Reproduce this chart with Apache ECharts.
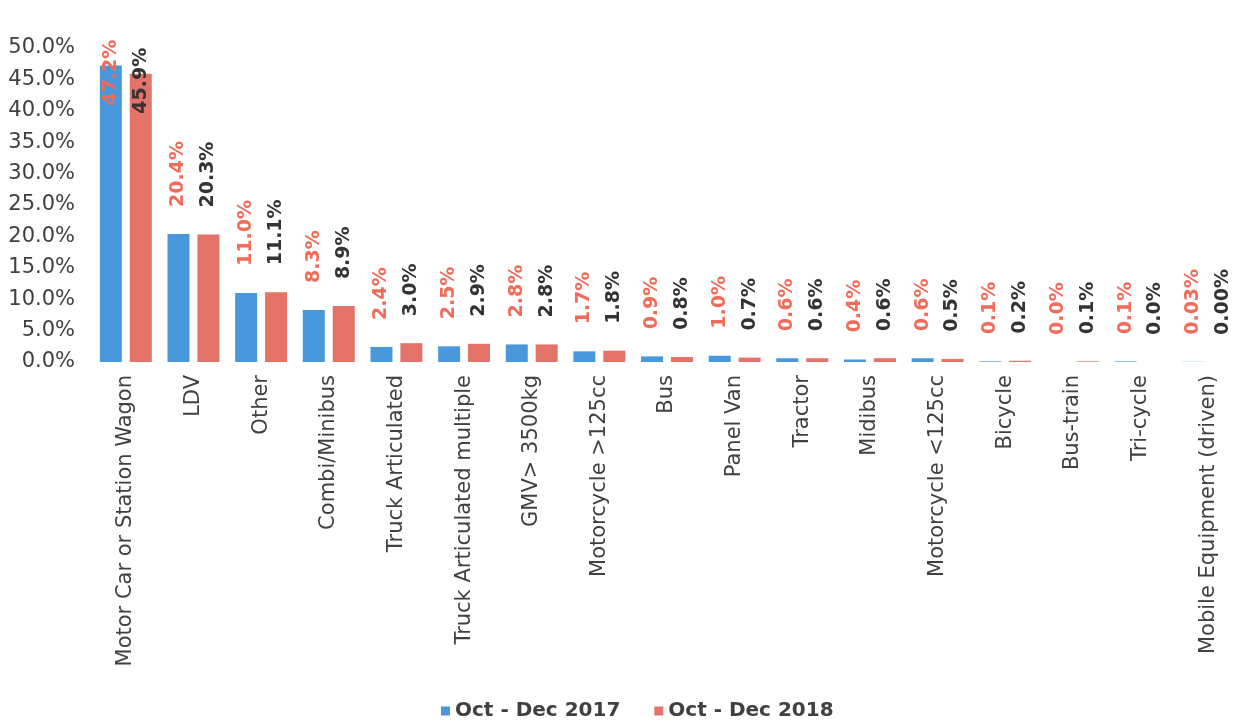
<!DOCTYPE html>
<html>
<head>
<meta charset="utf-8">
<script src="https://cdn.jsdelivr.net/npm/echarts@6/dist/echarts.min.js"></script>
<style>
  html, body { margin: 0; padding: 0; background: #ffffff; }
  #chart { width: 1242px; height: 728px; }
</style>
</head>
<body>
<div id="chart"></div>
<script>
const categories = [
  'Motor Car or Station Wagon', 'LDV', 'Other', 'Combi/Minibus', 'Truck Articulated',
  'Truck Articulated multiple', 'GMV> 3500kg', 'Motorcycle >125cc', 'Bus', 'Panel Van',
  'Tractor', 'Midibus', 'Motorcycle <125cc', 'Bicycle', 'Bus-train', 'Tri-cycle',
  'Mobile Equipment (driven)'
];
const seriesNames = ['Oct - Dec 2017', 'Oct - Dec 2018'];
const values2017 = [47.2, 20.4, 11.0, 8.3, 2.4, 2.5, 2.8, 1.7, 0.9, 1.0, 0.6, 0.4, 0.6, 0.1, 0.0, 0.1, 0.03];
const values2018 = [45.9, 20.3, 11.1, 8.9, 3.0, 2.9, 2.8, 1.8, 0.8, 0.7, 0.6, 0.6, 0.5, 0.2, 0.1, 0.0, 0.00];
const labelDecimals = [1, 1, 1, 1, 1, 1, 1, 1, 1, 1, 1, 1, 1, 1, 1, 1, 2];
const yTicks = [0, 5, 10, 15, 20, 25, 30, 35, 40, 45, 50];

const FONT = '"DejaVu Sans", Verdana, sans-serif';
const barColors = ['#4a98dc', '#e4736a'];
const labelColors = ['#f26a58', '#333333'];

function makeSeries(idx, values) {
  return {
    name: seriesNames[idx],
    type: 'bar',
    barWidth: 22,
    barGap: '36%',
    itemStyle: { color: barColors[idx] },
    data: values.map(function (v, i) {
      const item = { value: v };
      if (v > 40) {
        item.label = { distance: -40 };
      }
      return item;
    }),
    label: {
      show: true,
      position: 'top',
      rotate: 90,
      align: 'left',
      verticalAlign: 'middle',
      distance: 27,
      fontFamily: FONT,
      fontWeight: 'bold',
      fontSize: 19,
      color: labelColors[idx],
      formatter: function (p) {
        return p.value.toFixed(labelDecimals[p.dataIndex]) + '%';
      }
    }
  };
}

const chart = echarts.init(document.getElementById('chart'), null, { renderer: 'canvas' });
chart.setOption({
  backgroundColor: '#ffffff',
  animation: false,
  grid: { left: 92, right: 0, top: 48, bottom: 366, containLabel: false },
  legend: {
    data: seriesNames,
    bottom: 2,
    left: 436,
    icon: 'rect',
    itemWidth: 9,
    itemHeight: 9,
    itemGap: 34,
    textStyle: { fontFamily: FONT, fontWeight: 'bold', fontSize: 20, color: '#404040' }
  },
  xAxis: {
    type: 'category',
    data: categories,
    axisLine: { show: false },
    axisTick: { show: false },
    axisLabel: {
      interval: 0,
      rotate: 90,
      margin: 13,
      fontFamily: FONT,
      fontSize: 21,
      color: '#404040'
    }
  },
  yAxis: {
    type: 'value',
    min: yTicks[0],
    max: yTicks[yTicks.length - 1],
    interval: 5,
    axisLine: { show: false },
    axisTick: { show: false },
    splitLine: { show: false },
    axisLabel: {
      margin: 17,
      fontFamily: FONT,
      fontSize: 21,
      color: '#404040',
      formatter: function (v) { return v.toFixed(1) + '%'; }
    }
  },
  series: [makeSeries(0, values2017), makeSeries(1, values2018)]
});
</script>
</body>
</html>
